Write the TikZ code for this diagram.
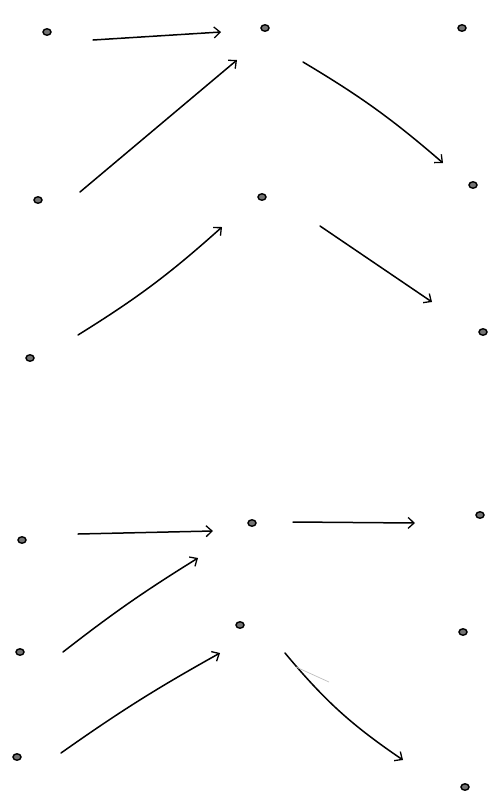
\documentclass[tikz,border=0pt]{standalone}
\usetikzlibrary{calc,arrows.meta,shapes.geometric}
\begin{document}
\begin{tikzpicture}[x=1pt,y=-1pt,
  blob/.style={ellipse,draw=black,fill=black!55,line width=1.4pt,minimum width=8pt,minimum height=6.5pt,inner sep=0pt},
  arr/.style={draw=black,line width=1.5pt,line cap=round,-{Straight Barb[length=6pt,width=11pt,line width=1.3pt]}}]
\useasboundingbox (0,0) rectangle (498,804);
% top group
\node[blob] (n1) at (47,32) {};
\node[blob] (n2) at (265,28) {};
\node[blob] (n3) at (462,28) {};
\node[blob] (n4) at (38,200) {};
\node[blob] (n5) at (262,197) {};
\node[blob] (n6) at (473,185) {};
\node[blob] (n7) at (30,358) {};
\node[blob] (n8) at (483,332) {};
% bottom group
\node[blob] (m1) at (22,540) {};
\node[blob] (m2) at (252,523) {};
\node[blob] (m3) at (480,515) {};
\node[blob] (m4) at (20,652) {};
\node[blob] (m5) at (240,625) {};
\node[blob] (m6) at (463,632) {};
\node[blob] (m7) at (17,757) {};
\node[blob] (m8) at (465,787) {};
% arrows top
\draw[arr] ($(n1)+(46,8)$) to ($(n2)+(-44,4)$);
\draw[arr] ($(n4)+(42,-8)$) to ($(n2)+(-28,32)$);
\draw[arr] ($(n2)+(38,34)$) to[bend left=5] ($(n6)+(-30,-22)$);
\draw[arr] ($(n7)+(48,-23)$) to[bend right=5] ($(n5)+(-40,30)$);
\draw[arr] ($(n5)+(58,29)$) to ($(n8)+(-51,-30)$);
% arrows bottom
\draw[arr] ($(m1)+(56,-6)$) to ($(m2)+(-39,8)$);
\draw[arr] ($(m2)+(41,-1)$) to ($(m3)+(-65,8)$);
\draw[arr] ($(m4)+(43,0)$) to[bend left=3] ($(m2)+(-54,35)$);
\draw[arr] ($(m7)+(44,-4)$) to[bend left=3] ($(m5)+(-20,28)$);
\draw[arr] ($(m5)+(45,28)$) to[bend right=8] ($(m8)+(-62,-27)$);
\draw[gray!50,line width=0.7pt] ($(m5)+(56,42)$) -- ($(m5)+(89,57)$);
\end{tikzpicture}
\end{document}
